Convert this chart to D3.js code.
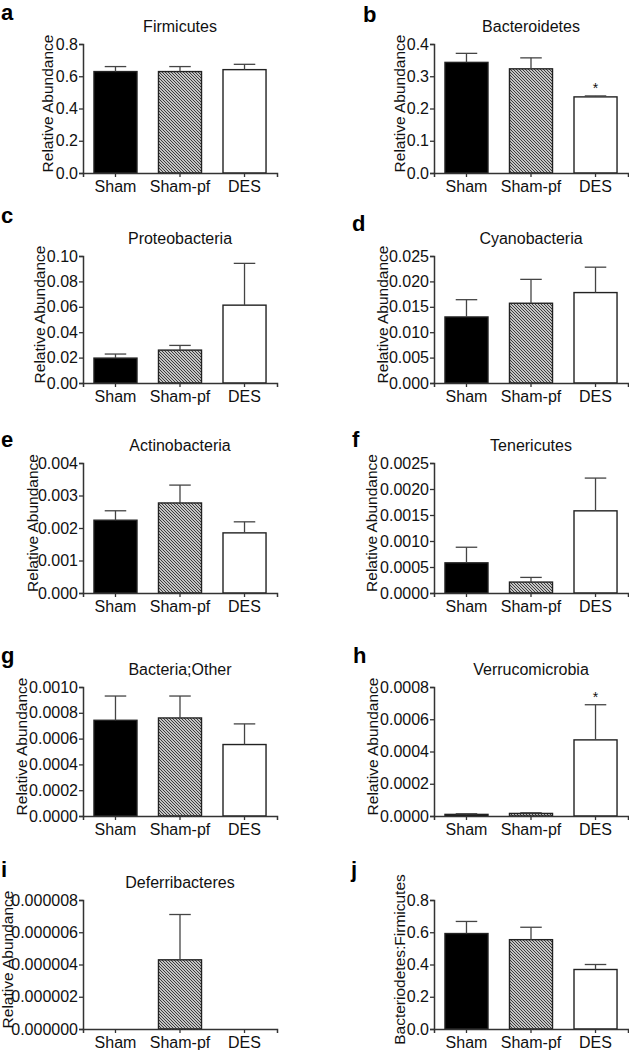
<!DOCTYPE html>
<html>
<head>
<meta charset="utf-8">
<script src="https://cdn.jsdelivr.net/npm/d3@7"></script>
<style>
html,body{margin:0;padding:0;background:#fff;}
svg{display:block;font-family:"Liberation Sans",Arial,Helvetica,sans-serif;}
</style>
</head>
<body>
<svg id="chart" width="629" height="1050"></svg>
<script>
// ---- data ----
const categories = ["Sham", "Sham-pf", "DES"];
const panelLetters = ["a","b","c","d","e","f","g","h","i","j"];
const panelTitles = ["Firmicutes","Bacteroidetes","Proteobacteria","Cyanobacteria","Actinobacteria","Tenericutes","Bacteria;Other","Verrucomicrobia","Deferribacteres",""];
const yLabels = ["Relative Abundance","Relative Abundance","Relative Abundance","Relative Abundance","Relative Abundance","Relative Abundance","Relative Abundance","Relative Abundance","Relative Abundance","Bacteriodetes:Firmicutes"];
const firmicutesMean = [0.629, 0.629, 0.641];
const firmicutesSem = [0.031, 0.031, 0.033];
const bacteroidetesMean = [0.343, 0.323, 0.236];
const bacteroidetesSem = [0.028, 0.034, 0.003];
const proteobacteriaMean = [0.0196, 0.0259, 0.0613];
const proteobacteriaSem = [0.0032, 0.0037, 0.0329];
const cyanobacteriaMean = [0.0130, 0.0157, 0.0178];
const cyanobacteriaSem = [0.0034, 0.0047, 0.0050];
const actinobacteriaMean = [0.00224, 0.00277, 0.00185];
const actinobacteriaSem = [0.00029, 0.00055, 0.00034];
const tenericutesMean = [0.00058, 0.00021, 0.00158];
const tenericutesSem = [0.00030, 0.00009, 0.00063];
const otherMean = [0.000742, 0.00076, 0.000554];
const otherSem = [0.000188, 0.00017, 0.00016];
const verrucoMean = [0.000010, 0.000016, 0.000472];
const verrucoSem = [0.000004, 0.000004, 0.000218];
const deferriMean = [0, 0.00000429, 0];
const deferriSem = [0, 0.00000281, 0];
const ratioMean = [0.592, 0.554, 0.369];
const ratioSem = [0.075, 0.077, 0.031];
const yMax = [0.8, 0.4, 0.10, 0.025, 0.004, 0.0025, 0.0010, 0.0008, 0.000008, 0.8];
const yStep = [0.2, 0.1, 0.02, 0.005, 0.001, 0.0005, 0.0002, 0.0002, 0.000002, 0.2];
const yDecimals = [1, 1, 2, 3, 3, 4, 4, 4, 6, 1];
const significant = [[], ["DES"], [], [], [], [], [], ["DES"], [], []];

const means = [firmicutesMean, bacteroidetesMean, proteobacteriaMean, cyanobacteriaMean, actinobacteriaMean, tenericutesMean, otherMean, verrucoMean, deferriMean, ratioMean];
const sems = [firmicutesSem, bacteroidetesSem, proteobacteriaSem, cyanobacteriaSem, actinobacteriaSem, tenericutesSem, otherSem, verrucoSem, deferriSem, ratioSem];

// ---- layout ----
const colRange = [[83, 277], [434, 628]];
const rowTop = [44, 256, 463, 687, 900];
const rowBase = [173, 383, 593, 816, 1029];
const yLabelX = [53, 405, 45, 388, 38, 377, 27, 378, 13, 405];
const letterX = [1, 363, 1, 352, 1, 352, 1, 353, 1, 351];
const letterY = [20, 21.5, 223, 231, 447, 447, 663, 663, 877, 877];

const svg = d3.select("#chart");
const ink = "#111";
const lineCol = "#333";

const defs = svg.append("defs");
const pat = defs.append("pattern").attr("id", "hatch")
  .attr("patternUnits", "userSpaceOnUse").attr("width", 3).attr("height", 3);
pat.append("rect").attr("width", 3).attr("height", 3).attr("fill", "#fff");
pat.append("path").attr("d", "M-1,-1 L4,4 M-1,2 L1,4 M2,-1 L4,1")
  .attr("stroke", "#333").attr("stroke-width", 1.1);

const fills = {"Sham": "#000", "Sham-pf": "url(#hatch)", "DES": "#fff"};

for (let p = 0; p < 10; p++) {
  const col = p % 2, row = Math.floor(p / 2);
  const g = svg.append("g");
  const x = d3.scaleBand().domain(categories).range(colRange[col])
    .paddingInner(0.333).paddingOuter(0.17);
  const y = d3.scaleLinear().domain([0, yMax[p]]).range([rowBase[row], rowTop[row]]);
  const ticks = d3.range(0, yMax[p] + yStep[p] / 2, yStep[p]);

  const data = categories.map((c, i) => ({cat: c, m: means[p][i], s: sems[p][i]}));

  // bars
  g.selectAll("rect.bar").data(data.filter(d => d.m > 0)).join("rect")
    .attr("class", "bar")
    .attr("x", d => x(d.cat)).attr("width", x.bandwidth())
    .attr("y", d => y(d.m)).attr("height", d => y(0) - y(d.m))
    .attr("fill", d => fills[d.cat])
    .attr("stroke", "#222").attr("stroke-width", 1.4);

  // error bars (upper)
  const eb = g.selectAll("g.err").data(data.filter(d => d.s > 0)).join("g").attr("class", "err");
  eb.append("line")
    .attr("x1", d => x(d.cat) + x.bandwidth() / 2).attr("x2", d => x(d.cat) + x.bandwidth() / 2)
    .attr("y1", d => y(d.m)).attr("y2", d => y(d.m + d.s))
    .attr("stroke", "#444").attr("stroke-width", 1.3);
  eb.append("line")
    .attr("x1", d => x(d.cat) + x.bandwidth() / 4).attr("x2", d => x(d.cat) + x.bandwidth() * 3 / 4)
    .attr("y1", d => y(d.m + d.s)).attr("y2", d => y(d.m + d.s))
    .attr("stroke", "#444").attr("stroke-width", 1.3);

  // significance
  g.selectAll("text.sig").data(data.filter(d => significant[p].includes(d.cat))).join("text")
    .attr("class", "sig")
    .attr("x", d => x(d.cat) + x.bandwidth() / 2)
    .attr("y", d => y(d.m + d.s) - 3)
    .attr("text-anchor", "middle").attr("font-size", 14).attr("fill", ink)
    .text("*");

  // y axis
  const yAxis = d3.axisLeft(y).tickValues(ticks).tickSizeOuter(0).tickSize(4).tickPadding(1)
    .tickFormat(d3.format("." + yDecimals[p] + "f"));
  const ya = g.append("g").attr("transform", `translate(${colRange[col][0]},0)`).call(yAxis);
  ya.select(".domain").attr("stroke", lineCol).attr("stroke-width", 1.5);
  ya.selectAll(".tick line").attr("stroke", lineCol).attr("stroke-width", 1.3);
  ya.selectAll(".tick text").attr("font-size", 16).attr("fill", ink)
    .attr("font-family", "'Liberation Sans',Arial,sans-serif");

  // x axis
  const xAxis = d3.axisBottom(x).tickSizeOuter(0).tickSize(4).tickPadding(4);
  const xa = g.append("g").attr("transform", `translate(0,${rowBase[row]})`).call(xAxis);
  xa.select(".domain").attr("stroke", lineCol).attr("stroke-width", 1.5);
  xa.selectAll(".tick line").attr("stroke", lineCol).attr("stroke-width", 1.3);
  xa.selectAll(".tick text").attr("font-size", 16).attr("fill", ink)
    .attr("font-family", "'Liberation Sans',Arial,sans-serif");

  // title
  if (panelTitles[p]) {
    g.append("text")
      .attr("x", (colRange[col][0] + colRange[col][1]) / 2)
      .attr("y", rowTop[row] - 12)
      .attr("text-anchor", "middle").attr("font-size", 16).attr("fill", ink)
      .text(panelTitles[p]);
  }

  // y label
  const cy = (rowTop[row] + rowBase[row]) / 2 - 5;
  g.append("text")
    .attr("transform", `translate(${yLabelX[p]},${cy}) rotate(-90)`)
    .attr("text-anchor", "middle").attr("font-size", 15.5).attr("fill", ink)
    .text(yLabels[p]);

  // panel letter
  g.append("text")
    .attr("x", letterX[p]).attr("y", letterY[p])
    .attr("font-size", 22).attr("font-weight", "bold").attr("fill", "#000")
    .text(panelLetters[p]);
}
</script>
</body>
</html>
